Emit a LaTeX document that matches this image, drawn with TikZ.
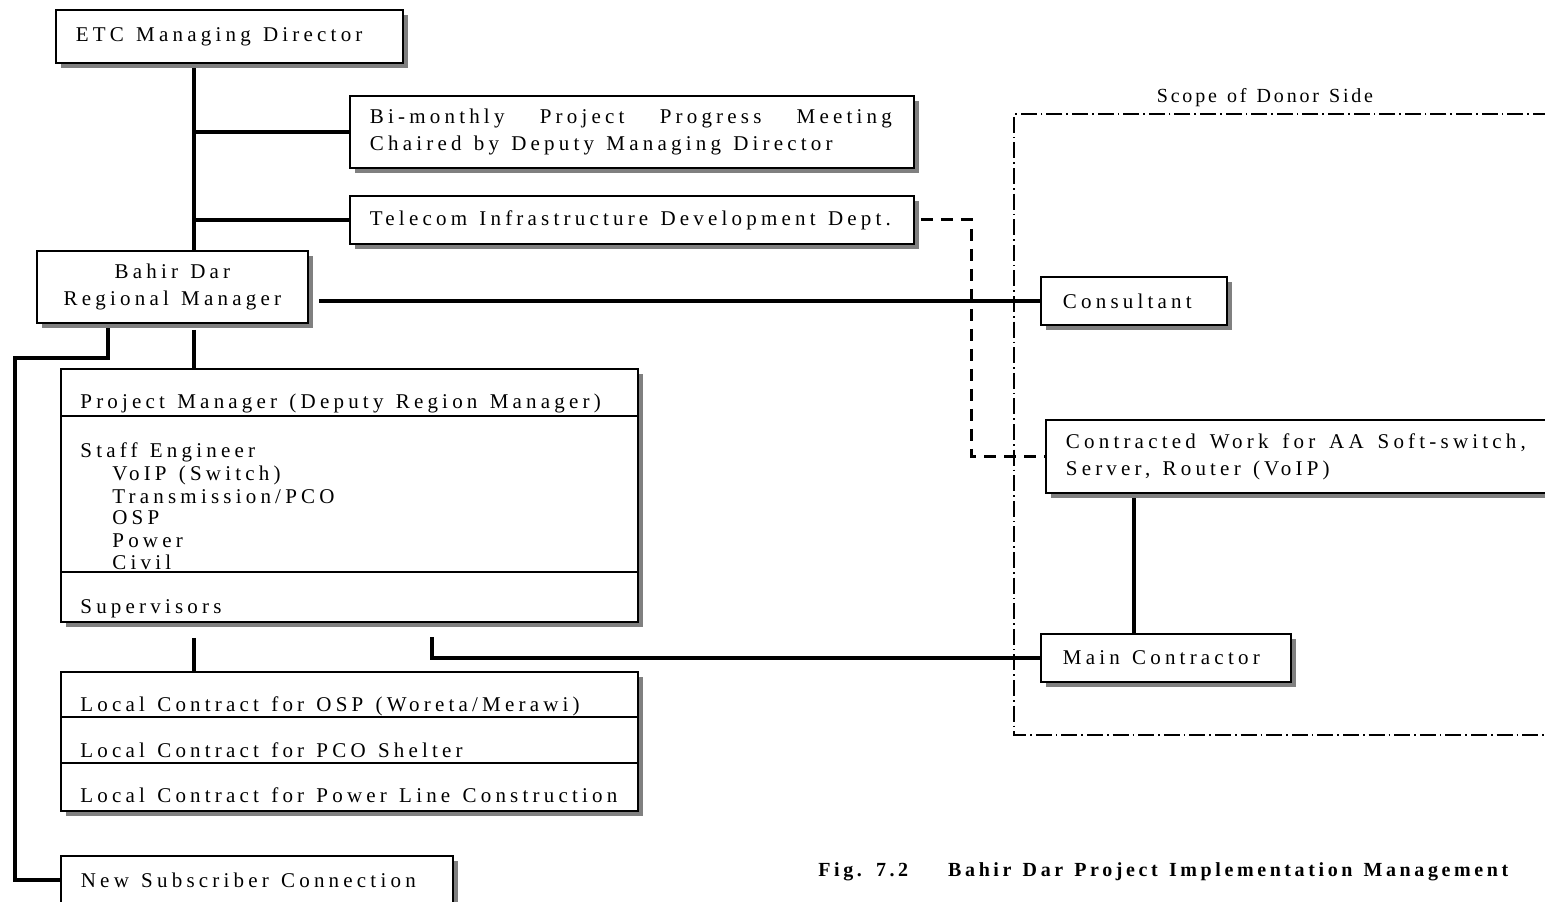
\documentclass[tikz,border=0pt]{standalone}
\usepackage{fontspec}
\setmainfont{Liberation Serif}[LetterSpace=20, WordSpace=1.3]
\usetikzlibrary{shadows, positioning}

\begin{document}
\begin{tikzpicture}[x=0.5pt, y=-0.5pt,
    box/.style={draw, line width=0.9pt, fill=white, anchor=north west,
      drop shadow={shadow xshift=2.5pt, shadow yshift=-2.5pt, fill=black!50, opacity=1},
      inner xsep=10pt, inner ysep=0pt, align=flush left, font=\fontsize{10.5}{13.5}\selectfont},
    txt/.style={anchor=base west, inner sep=0pt, font=\fontsize{10.5}{13.5}\selectfont},
    link/.style={line width=1.6pt},
    dlink/.style={line width=1.5pt, dash pattern=on 6pt off 4pt},
    donor/.style={line width=0.6pt, dash pattern=on 8pt off 2pt on 0.8pt off 2pt}]

    \useasboundingbox (0,0) rectangle (1545,901);

    % boxes
    \node [box, text width=153.5pt, minimum height=26.5pt] (etc) at (55,9) {ETC Managing Director};
    \node [box, text width=262pt, minimum height=36pt] (meet) at (349,95)
        {\makebox[261pt][l]{Bi-monthly\hfill Project\hfill Progress\hfill Meeting}\\Chaired by Deputy Managing Director};
    \node [box, text width=262pt, minimum height=24pt] (tidd) at (349,195) {Telecom Infrastructure Development Dept.};
    \node [box, text width=115.5pt, minimum height=36pt, align=flush center] (bahir) at (36,250) {Bahir Dar\\Regional Manager};
    \node [box, text width=71pt, minimum height=24pt, inner xsep=11pt] (cons) at (1040,276) {Consultant};
    \node [box, text width=257.5pt, minimum height=36.5pt] (aa) at (1045,419)
        {\makebox[230pt][l]{Contracted\hfill Work\hfill for\hfill AA\hfill Soft-switch,}\\Server, Router (VoIP)};
    \node [box, text width=103pt, minimum height=24pt, inner xsep=11pt] (main) at (1040,633) {Main Contractor};
    \node [box, minimum width=288.5pt, minimum height=126.5pt] (pm) at (60,368) {};
    \node [box, minimum width=288.5pt, minimum height=69.5pt] (lc) at (60,671) {};
    \node [box, text width=176pt, minimum height=24pt] (nsc) at (60,855) {New Subscriber Connection};

    % project manager box
    \draw [line width=0.9pt] (pm.west |- 0,416) -- (pm.east |- 0,416);
    \draw [line width=0.9pt] (pm.west |- 0,572) -- (pm.east |- 0,572);
    \node [txt] (pmt) at (80,408) {Project Manager (Deputy Region Manager)};
    \node [txt] (staff) at (80,457) {Staff Engineer};
    \node [txt] (voip) at (112,480) {VoIP (Switch)};
    \node [txt] (trans) at (112,503) {Transmission/PCO};
    \node [txt] (osp) at (112,524) {OSP};
    \node [txt] (power) at (112,547) {Power};
    \node [txt] (civil) at (112,569) {Civil};
    \node [txt] (sup) at (80,613) {Supervisors};

    % local contracts
    \draw [line width=0.9pt] (lc.west |- 0,717) -- (lc.east |- 0,717);
    \draw [line width=0.9pt] (lc.west |- 0,763) -- (lc.east |- 0,763);
    \node [txt] (lc1) at (80,711) {Local Contract for OSP (Woreta/Merawi)};
    \node [txt] (lc2) at (80,757) {Local Contract for PCO Shelter};
    \node [txt] (lc3) at (80,802) {Local Contract for Power Line Construction};

    % scope of donor side
    \draw [donor] (1600,114) -| (1014,735) -- (1600,735);
    \node [anchor=base, inner sep=0pt, font=\fontsize{10}{12}\selectfont\addfontfeatures{LetterSpace=14}] (scope) at (1265,102) {Scope of Donor Side};

    % caption
    \node [anchor=base west, inner sep=0pt, font=\fontsize{10}{12}\selectfont\bfseries\addfontfeatures{LetterSpace=18}] (cap) at (818,876)
        {Fig. 7.2\hspace{2em}Bahir Dar Project Implementation Management};

    % connectors
    \coordinate (trunk) at (194,68);
    \coordinate (bl) at (108,328);
    \coordinate (sv) at (432,637);
    \coordinate (aadrop) at (1134,498);
    \draw [link] (trunk) -- (trunk |- bahir.north);
    \draw [link] (trunk |- meet.west) -- (meet.west);
    \draw [link] (trunk |- tidd.west) -- (tidd.west);
    \draw [link, shorten >=5pt] (cons.west) -- (cons.west -| bahir.east);
    \draw [link, shorten <=3pt] (trunk |- bahir.south) -- (trunk |- pm.north);
    \draw [link] (bl) |- (15,358) |- (nsc.west);
    \draw [link, shorten <=7.5pt] (trunk |- pm.south) -- (trunk |- lc.north);
    \draw [link] (main.west) -| (sv);
    \draw [link] (aadrop) -- (aadrop |- main.north);
    \draw [dlink, shorten <=3pt] (tidd.east) -- ++(57,0) |- (aa.west);
\end{tikzpicture}
\end{document}
